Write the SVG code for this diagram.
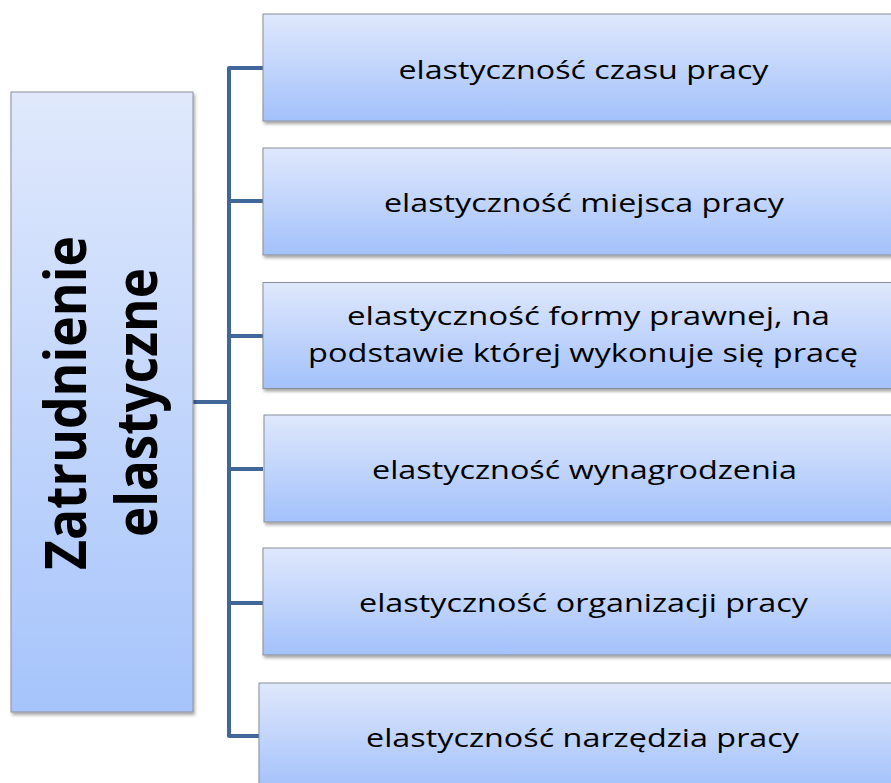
<svg xmlns="http://www.w3.org/2000/svg" width="891" height="783" viewBox="0 0 891 783">
  <defs>
    <linearGradient id="g" x1="0" y1="0" x2="0" y2="1">
      <stop offset="0" stop-color="#dfe8fc"/>
      <stop offset="1" stop-color="#a3c1fb"/>
    </linearGradient>
    <linearGradient id="gl" x1="0" y1="0" x2="0" y2="1">
      <stop offset="0" stop-color="#e0e9fc"/>
      <stop offset="1" stop-color="#a6c4fb"/>
    </linearGradient>
    <filter id="sh" x="-10%" y="-10%" width="130%" height="130%">
      <feDropShadow dx="1.5" dy="2.5" stdDeviation="1.8" flood-color="#000" flood-opacity="0.35"/>
    </filter>
  </defs>
  <style>
    .box { fill: url(#g); stroke: #8a8f98; stroke-width: 1; filter: url(#sh); }
    .lbl { font-family: "Open Sans", "Liberation Sans", sans-serif; font-size: 26px; fill: #000; text-anchor: middle; }
    .big { font-family: "Open Sans", "Liberation Sans", sans-serif; font-size: 58px; font-weight: bold; fill: #000; text-anchor: middle; }
    .con { fill: none; stroke: #41679a; stroke-width: 4; stroke-linejoin: round; }
  </style>
  <rect width="891" height="783" fill="#fff"/>

  <g id="connectors">
    <path class="con" d="M263,68 H229 V736 H263"/>
    <path class="con" d="M229,201 H263"/>
    <path class="con" d="M229,336 H263"/>
    <path class="con" d="M229,469 H263"/>
    <path class="con" d="M229,603 H263"/>
    <path class="con" d="M193,402 H229"/>
  </g>

  <g id="root">
    <rect x="11" y="92" width="182" height="620" style="fill:url(#gl);stroke:#8a8f98;stroke-width:1;filter:url(#sh)"/>
    <text class="big" transform="translate(86,403) rotate(-90)" textLength="334" lengthAdjust="spacingAndGlyphs">Zatrudnienie</text>
    <text class="big" transform="translate(157,402.5) rotate(-90)" textLength="269" lengthAdjust="spacingAndGlyphs">elastyczne</text>
  </g>

  <g id="n1">
    <rect class="box" x="263" y="14" width="660" height="107"/>
    <text class="lbl" x="583.5" y="79" textLength="370" lengthAdjust="spacingAndGlyphs">elastyczność czasu pracy</text>
  </g>
  <g id="n2">
    <rect class="box" x="263" y="148" width="660" height="107"/>
    <text class="lbl" x="584" y="212" textLength="400" lengthAdjust="spacingAndGlyphs">elastyczność miejsca pracy</text>
  </g>
  <g id="n3">
    <rect class="box" x="263" y="282.5" width="660" height="106"/>
    <text class="lbl" x="588.5" y="325" textLength="483" lengthAdjust="spacingAndGlyphs">elastyczność formy prawnej, na</text>
    <text class="lbl" x="583" y="362" textLength="550" lengthAdjust="spacingAndGlyphs">podstawie której wykonuje się pracę</text>
  </g>
  <g id="n4">
    <rect class="box" x="264" y="415" width="660" height="107"/>
    <text class="lbl" x="584.5" y="479" textLength="425" lengthAdjust="spacingAndGlyphs">elastyczność wynagrodzenia</text>
  </g>
  <g id="n5">
    <rect class="box" x="263" y="548" width="660" height="107"/>
    <text class="lbl" x="583.5" y="612" textLength="449" lengthAdjust="spacingAndGlyphs">elastyczność organizacji pracy</text>
  </g>
  <g id="n6">
    <rect class="box" x="259" y="683" width="660" height="107"/>
    <text class="lbl" x="582.5" y="747" textLength="433" lengthAdjust="spacingAndGlyphs">elastyczność narzędzia pracy</text>
  </g>
</svg>
